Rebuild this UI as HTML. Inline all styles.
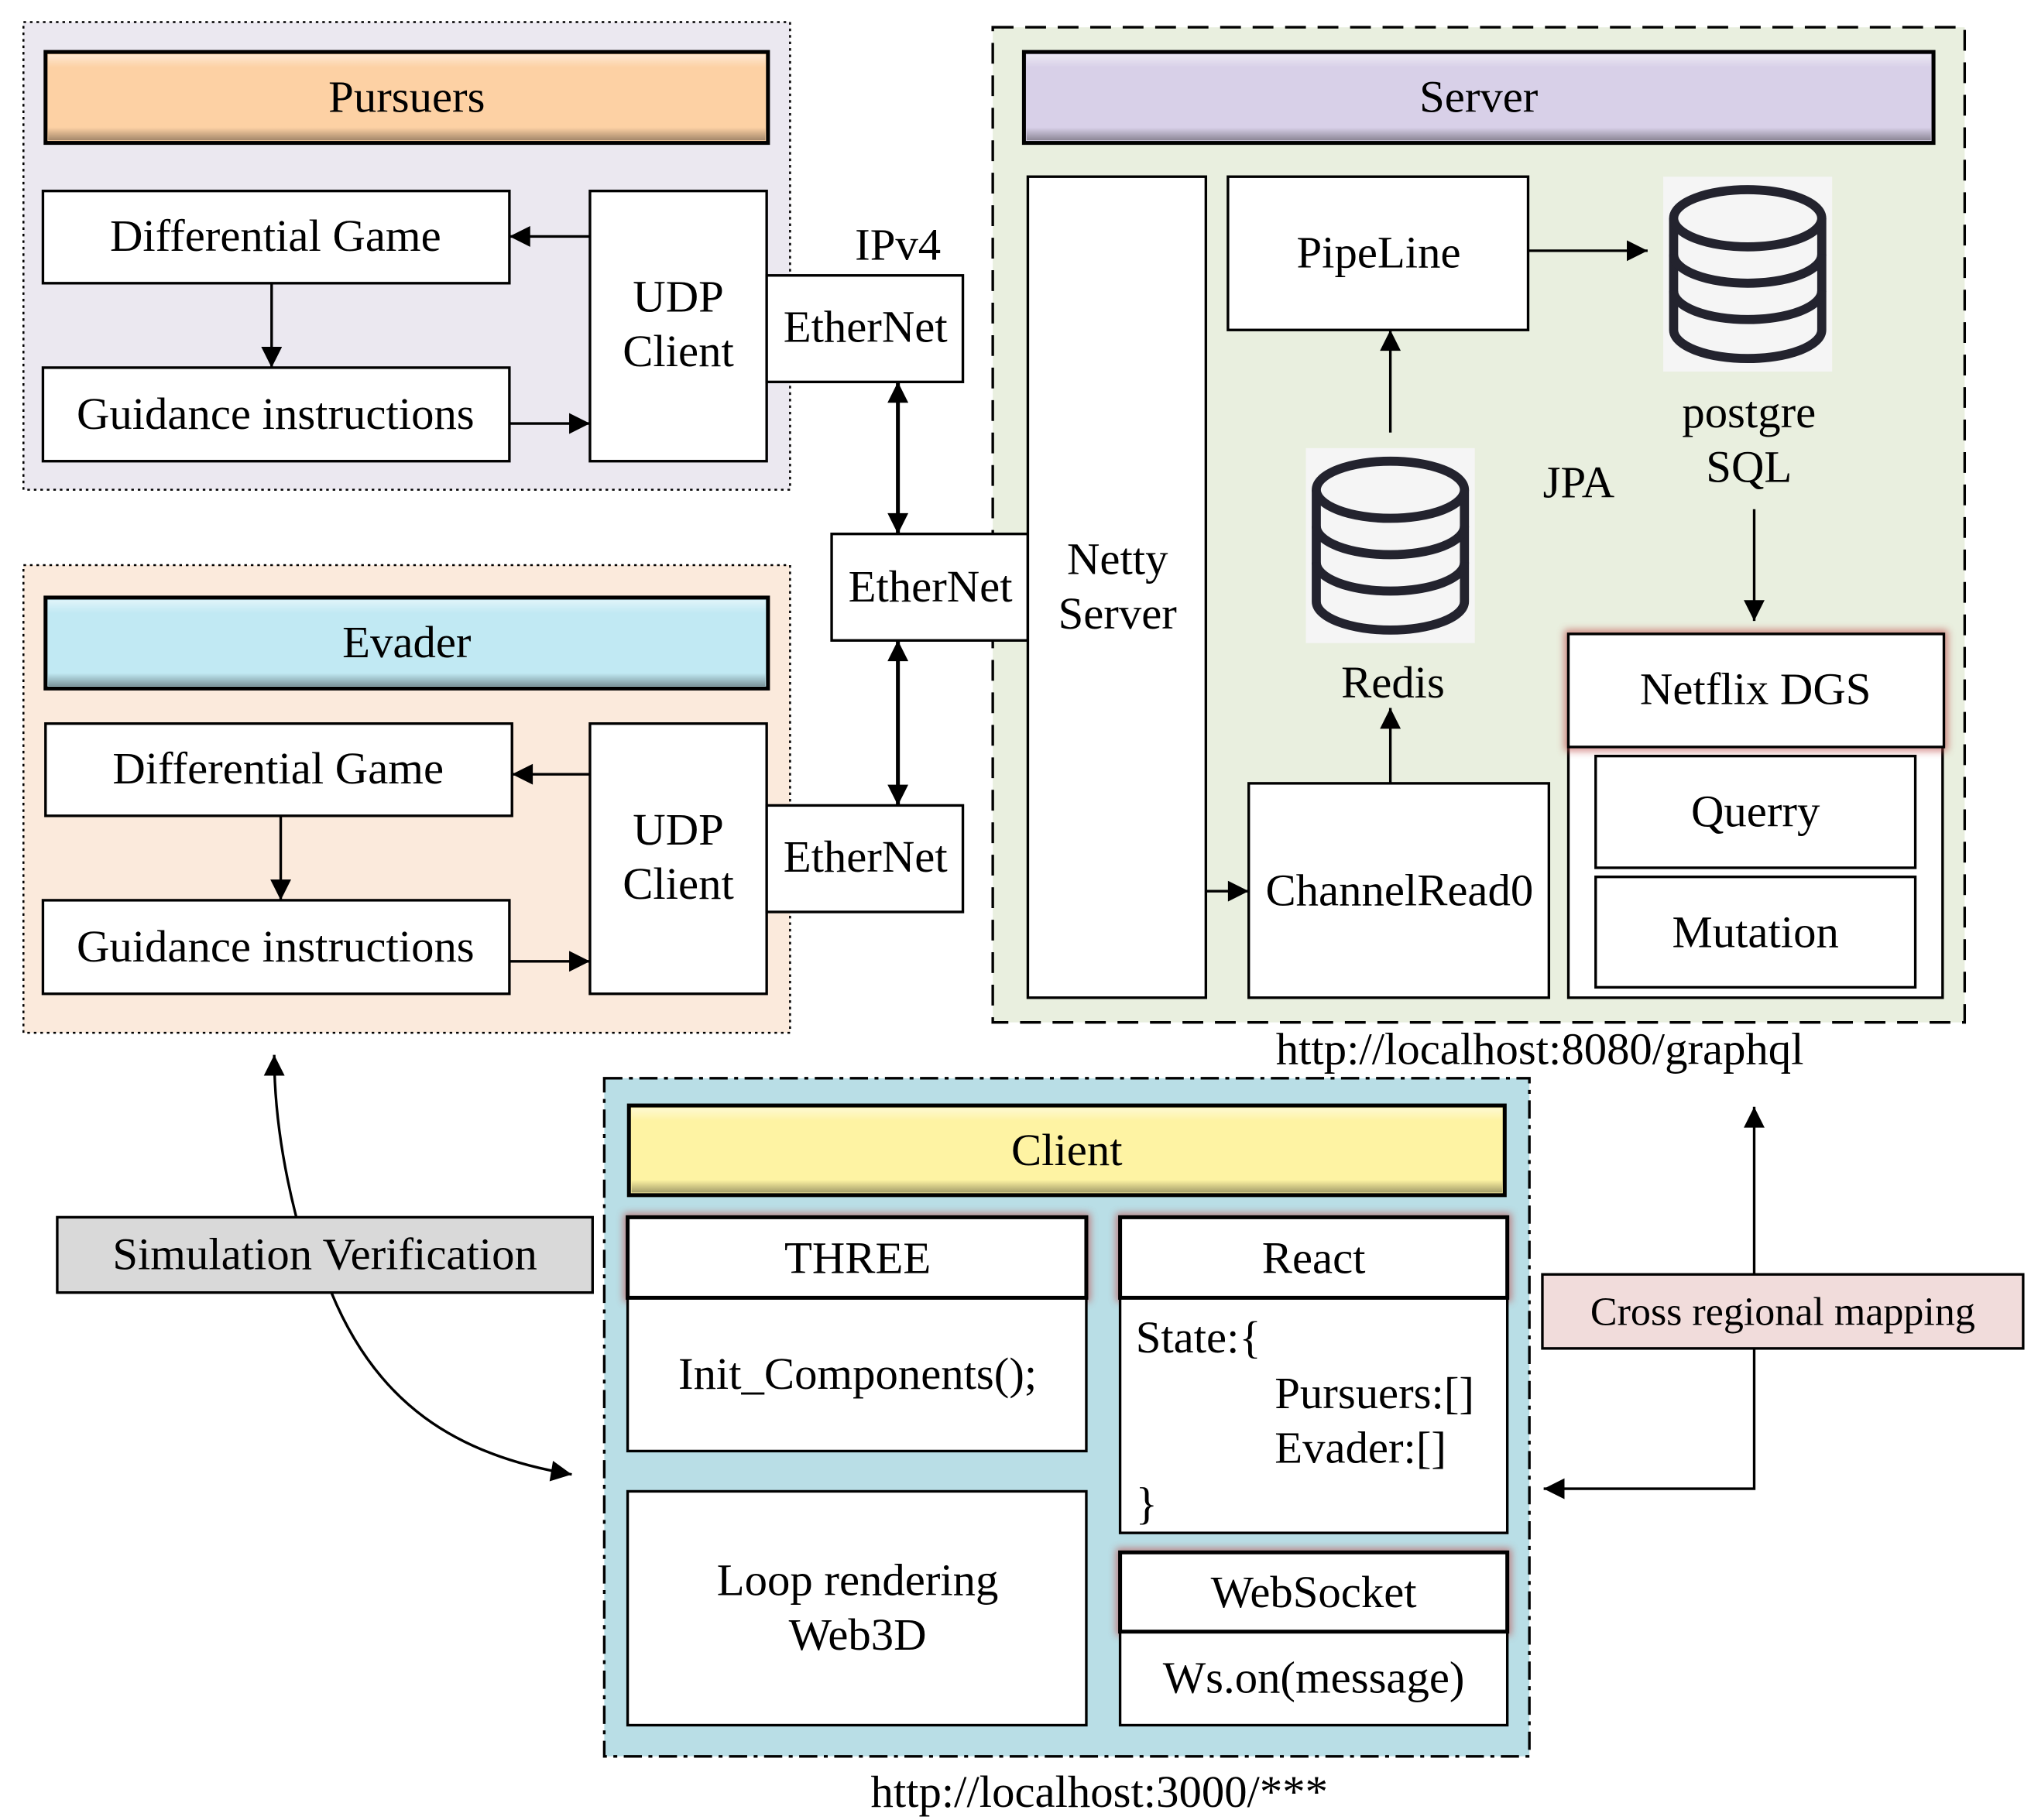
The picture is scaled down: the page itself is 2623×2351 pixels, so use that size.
<!DOCTYPE html>
<html><head><meta charset="utf-8"><style>
html,body{margin:0;padding:0;background:#fff}
svg{display:block}
text{font-family:"Liberation Serif",serif;fill:#000}
</style></head><body>
<svg width="2623" height="2351" viewBox="0 0 1563 1401" xmlns="http://www.w3.org/2000/svg">
<defs>
<marker id="b" viewBox="0 0 10 10" refX="10" refY="5" markerWidth="24" markerHeight="16" markerUnits="userSpaceOnUse" orient="auto-start-reverse"><path d="M0,0L10,5L0,10z" fill="#000"/></marker>
<filter id="g" x="-10%" y="-30%" width="120%" height="160%"><feGaussianBlur stdDeviation="3"/></filter>
<linearGradient id="bev" x1="0" y1="0" x2="0" y2="1"><stop offset="0" stop-color="#fff" stop-opacity=".5"/><stop offset=".15" stop-color="#fff" stop-opacity="0"/><stop offset=".85" stop-color="#000" stop-opacity="0"/><stop offset="1" stop-color="#000" stop-opacity=".35"/></linearGradient>
<g id="cyl">
<rect x="0" y="0" width="130" height="150" fill="#f5f5f5"/>
<path d="M8,32 V118 A57,22 0 0 0 122,118 V32" fill="#f5f5f5" stroke="#23232e" stroke-width="7"/>
<path d="M8,60 A57,22 0 0 0 122,60 M8,88 A57,22 0 0 0 122,88" fill="none" stroke="#23232e" stroke-width="7"/>
<ellipse cx="65" cy="32" rx="57" ry="22" fill="#f5f5f5" stroke="#23232e" stroke-width="7"/>
</g>
</defs>
<g stroke="#000" stroke-width="2">
<rect x="18" y="17" width="590" height="360" fill="#ebe8f0" stroke-dasharray="2,3" stroke-width="1.5"/>
<rect x="35" y="40" width="556" height="70" fill="#fdd1a4" stroke-width="3"/>
<rect x="37" y="42" width="552" height="66" fill="url(#bev)" stroke="none"/>
<rect x="33" y="147" width="359" height="71" fill="#fff"/>
<rect x="33" y="283" width="359" height="72" fill="#fff"/>
<rect x="454" y="147" width="136" height="208" fill="#fff"/>
<rect x="590" y="212" width="151" height="82" fill="#fff"/>
<line x1="454" y1="182" x2="392" y2="182" marker-end="url(#b)"/>
<line x1="209" y1="218" x2="209" y2="283" marker-end="url(#b)"/>
<line x1="392" y1="326" x2="454" y2="326" marker-end="url(#b)"/>
<rect x="18" y="435" width="590" height="360" fill="#fbeadc" stroke-dasharray="2,3" stroke-width="1.5"/>
<rect x="35" y="460" width="556" height="70" fill="#c1e9f3" stroke-width="3"/>
<rect x="37" y="462" width="552" height="66" fill="url(#bev)" stroke="none"/>
<rect x="35" y="557" width="359" height="71" fill="#fff"/>
<rect x="33" y="693" width="359" height="72" fill="#fff"/>
<rect x="454" y="557" width="136" height="208" fill="#fff"/>
<rect x="590" y="620" width="151" height="82" fill="#fff"/>
<line x1="454" y1="596" x2="394" y2="596" marker-end="url(#b)"/>
<line x1="216" y1="628" x2="216" y2="693" marker-end="url(#b)"/>
<line x1="392" y1="740" x2="454" y2="740" marker-end="url(#b)"/>
<rect x="764" y="21" width="748" height="766" fill="#e9efdf" stroke-dasharray="16,9"/>
<rect x="788" y="40" width="700" height="70" fill="#d8d0e8" stroke-width="3"/>
<rect x="790" y="42" width="696" height="66" fill="url(#bev)" stroke="none"/>
<rect x="640" y="411" width="151" height="82" fill="#fff"/>
<line x1="691" y1="294" x2="691" y2="411" marker-start="url(#b)" marker-end="url(#b)" stroke-width="3"/>
<line x1="691" y1="493" x2="691" y2="620" marker-start="url(#b)" marker-end="url(#b)" stroke-width="3"/>
<rect x="791" y="136" width="137" height="632" fill="#fff"/>
<rect x="945" y="136" width="231" height="118" fill="#fff"/>
<rect x="961" y="603" width="231" height="165" fill="#fff"/>
<line x1="1176" y1="193" x2="1268" y2="193" marker-end="url(#b)"/>
<line x1="1070" y1="333" x2="1070" y2="254" marker-end="url(#b)"/>
<line x1="1070" y1="603" x2="1070" y2="545" marker-end="url(#b)"/>
<line x1="928" y1="686" x2="961" y2="686" marker-end="url(#b)"/>
<line x1="1350" y1="392" x2="1350" y2="478" marker-end="url(#b)"/>
<rect x="1207" y="488" width="288" height="280" fill="#fff"/>
<rect x="1207" y="488" width="289" height="87" fill="none" stroke="#c0504d" stroke-width="6" filter="url(#g)" opacity=".7"/>
<rect x="1207" y="488" width="289" height="87" fill="#fff"/>
<rect x="1228" y="582" width="246" height="86" fill="#fff"/>
<rect x="1228" y="675" width="246" height="85" fill="#fff"/>
<rect x="465" y="830" width="712" height="522" fill="#b9dee6" stroke-dasharray="14,5,3,5"/>
<rect x="484" y="851" width="674" height="69" fill="#fef3a3" stroke-width="3"/>
<rect x="486" y="853" width="670" height="65" fill="url(#bev)" stroke="none"/>
<g fill="none" stroke="#c0504d" stroke-width="6" filter="url(#g)" opacity=".7">
<rect x="483" y="937" width="353" height="62"/><rect x="862" y="937" width="298" height="62"/><rect x="862" y="1195" width="298" height="61"/>
</g>
<rect x="483" y="999" width="353" height="118" fill="#fff"/>
<rect x="483" y="937" width="353" height="62" fill="#fff" stroke-width="3"/>
<rect x="483" y="1148" width="353" height="180" fill="#fff"/>
<rect x="862" y="999" width="298" height="181" fill="#fff"/>
<rect x="862" y="937" width="298" height="62" fill="#fff" stroke-width="3"/>
<rect x="862" y="1256" width="298" height="72" fill="#fff"/>
<rect x="862" y="1195" width="298" height="61" fill="#fff" stroke-width="3"/>
<rect x="44" y="937" width="412" height="58" fill="#d9d9d9"/>
<path d="M228,937 C216,890 211,850 211,812" fill="none" marker-end="url(#b)"/>
<path d="M255,995 C290,1080 350,1120 440,1135" fill="none" marker-end="url(#b)"/>
<rect x="1187" y="981" width="370" height="57" fill="#f1dcdb"/>
<line x1="1350" y1="981" x2="1350" y2="852" marker-end="url(#b)"/>
<polyline points="1350,1038 1350,1146 1188,1146" fill="none" marker-end="url(#b)"/>
</g>
<use href="#cyl" x="1280" y="136"/>
<use href="#cyl" x="1005" y="345"/>
<g font-size="35" text-anchor="middle">
<text x="313" y="86">Pursuers</text>
<text x="212" y="193">Differential Game</text>
<text x="212" y="330">Guidance instructions</text>
<text x="522" y="240">UDP</text><text x="522" y="282">Client</text>
<text x="666" y="263">EtherNet</text>
<text x="691" y="200">IPv4</text>
<text x="313" y="506">Evader</text>
<text x="214" y="603">Differential Game</text>
<text x="212" y="740">Guidance instructions</text>
<text x="522" y="650">UDP</text><text x="522" y="692">Client</text>
<text x="666" y="671">EtherNet</text>
<text x="716" y="463">EtherNet</text>
<text x="1138" y="86">Server</text>
<text x="860" y="442">Netty</text><text x="860" y="484">Server</text>
<text x="1061" y="206">PipeLine</text>
<text x="1346" y="329">postgre</text><text x="1346" y="371">SQL</text>
<text x="1215" y="383">JPA</text>
<text x="1072" y="537">Redis</text>
<text x="1077" y="697">ChannelRead0</text>
<text x="1351" y="542">Netflix DGS</text>
<text x="1351" y="636">Querry</text>
<text x="1351" y="729">Mutation</text>
<text x="1185" y="819">http://localhost:8080/graphql</text>
<text x="821" y="897">Client</text>
<text x="660" y="980">THREE</text>
<text x="660" y="1069">Init_Components();</text>
<text x="660" y="1228">Loop rendering</text><text x="660" y="1270">Web3D</text>
<text x="1011" y="980">React</text>
<text x="1011" y="1237">WebSocket</text>
<text x="1011" y="1303">Ws.on(message)</text>
<text x="846" y="1391">http://localhost:3000/***</text>
<text x="250" y="977">Simulation Verification</text>
<text x="1372" y="1020" font-size="31">Cross regional mapping</text>
</g>
<g font-size="35">
<text x="874" y="1041">State:{</text>
<text x="981" y="1084">Pursuers:[]</text>
<text x="981" y="1126">Evader:[]</text>
<text x="874" y="1169">}</text>
</g>
</svg>
</body></html>
